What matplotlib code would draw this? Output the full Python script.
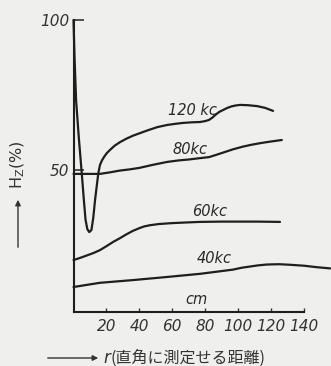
import matplotlib
matplotlib.use("Agg")
import matplotlib.pyplot as plt

plt.rcParams['font.family'] = ['DejaVu Sans']

# --- data ---
r_120 = [0, 0.6, 1.6, 3.2, 5.0, 6.3, 7.3, 8.4, 9.6, 10.9, 12.0, 13.1, 14.2, 15.1, 16.1, 17.3, 18.5, 20.2, 22.2, 25, 28.3, 32, 36, 40.4, 46, 51, 56.8, 62, 66.6, 72, 76.9, 80, 82.4, 84.5, 86.5, 88.7, 90.9, 93.5, 96, 98.5, 101.2, 106, 111.6, 116.5, 121.3]
h_120 = [100, 88, 73, 61, 49, 40, 33.5, 30.3, 29.3, 30.0, 34.0, 40, 45, 49, 51.7, 53.2, 54.3, 55.6, 56.7, 58.1, 59.3, 60.4, 61.4, 62.3, 63.4, 64.3, 65, 65.4, 65.7, 65.9, 66, 66.3, 66.7, 67.5, 68.5, 69.4, 70, 70.7, 71.2, 71.5, 71.7, 71.6, 71.3, 70.7, 69.7]

r_80 = [0, 8, 16, 22, 28, 34, 40, 48, 57, 64, 70, 76, 82.4, 87, 92, 97, 103, 108, 114, 120, 126.6]
h_80 = [48.7, 48.7, 48.7, 49.2, 49.8, 50.2, 50.7, 51.7, 52.7, 53.2, 53.5, 53.9, 54.3, 55.1, 56, 56.9, 57.8, 58.4, 59, 59.5, 60]

r_60 = [0, 4, 8, 12, 16.1, 20, 24, 28.3, 32, 36, 40.4, 43, 46.5, 52, 60, 68, 76.9, 90, 100, 112, 125.5]
h_60 = [20, 20.7, 21.5, 22.3, 23.3, 24.6, 26, 27.3, 28.5, 29.7, 30.7, 31.2, 31.6, 32, 32.3, 32.5, 32.7, 32.8, 32.8, 32.8, 32.7]

r_40 = [0, 16, 36, 56, 77, 97, 102, 107, 112, 117.6, 125, 132, 140, 148, 156]
h_40 = [11, 12.4, 13.3, 14.3, 15.4, 16.8, 17.4, 17.8, 18.2, 18.5, 18.6, 18.4, 18.1, 17.6, 17.2]

curve_labels = ["120 kc", "80kc", "60kc", "40kc", "cm"]
label_pos = [(72.3, 70), (70.8, 56.7), (83, 36.1), (85.4, 20.6), (74.5, 6.7)]

x_ticks = [20, 40, 60, 80, 100, 120, 140]
y_ticks = [50, 100]

# --- figure ---
W, H = 331, 366
bg = '#efefed'
ink = '#1e1e1e'
fig = plt.figure(figsize=(W / 100, H / 100), dpi=100, facecolor=bg)
ax = fig.add_axes([73.5 / W, 54 / H, (W - 73.5) / W, 292 / H])
ax.set_facecolor(bg)
ax.set_xlim(0, 156.5)
ax.set_ylim(2.67, 100)

for rr, hh in [(r_120, h_120), (r_80, h_80), (r_60, h_60), (r_40, h_40)]:
    ax.plot(rr, hh, color=ink, lw=1.6, solid_capstyle='round', solid_joinstyle='round', clip_on=False)

for s in ['top', 'right']:
    ax.spines[s].set_visible(False)
for s in ['left', 'bottom']:
    ax.spines[s].set_linewidth(1.5)
    ax.spines[s].set_color(ink)
ax.spines['bottom'].set_bounds(0, 140)

ax.set_xticks(x_ticks)
ax.set_xticklabels([str(v) for v in x_ticks], fontsize=11, style='italic', color='#333333')
ax.set_yticks(y_ticks)
ax.set_yticklabels([str(v) for v in y_ticks], fontsize=11, style='italic', color='#333333')
ax.tick_params(axis='x', direction='in', length=3, width=1, pad=5, colors='#333333')
ax.tick_params(axis='y', direction='in', length=7, width=1.2, pad=3, colors='#333333')

for txt, (xx, yy) in zip(curve_labels, label_pos):
    ax.text(xx, yy, txt, fontsize=10.5, style='italic', color='#2a2a2a', ha='center', va='center')

# y label with arrow
fig.text(18 / W, (H - 165) / H, 'H$_\\mathregular{Z}$(%)', rotation=90, fontsize=11.5,
         ha='center', va='center', color='#333333')
fig.patches.append(matplotlib.patches.FancyArrowPatch(
    (18 / W, (H - 250) / H), (18 / W, (H - 197) / H), transform=fig.transFigure,
    arrowstyle='-|>', mutation_scale=8, lw=1.0, color='#333333'))

# x label with arrow
fig.patches.append(matplotlib.patches.FancyArrowPatch(
    (45 / W, (H - 358) / H), (101 / W, (H - 358) / H), transform=fig.transFigure,
    arrowstyle='-|>', mutation_scale=8, lw=1.0, color='#333333'))
fig.text(103 / W, (H - 358) / H, 'r', fontsize=12, style='italic', ha='left', va='center', color='#333333')
fig.text(110 / W, (H - 358) / H, '(直角に測定せる距離)', fontsize=11.5,
         family=['Noto Sans CJK JP', 'DejaVu Sans'], ha='left', va='center', color='#333333')

fig.savefig('out.png', dpi=100, facecolor=bg)
